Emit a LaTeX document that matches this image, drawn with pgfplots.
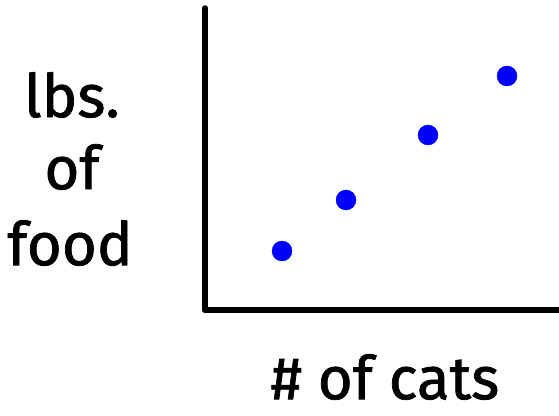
\documentclass[border=0pt]{standalone}
\usepackage{pgfplots}
\pgfplotsset{compat=1.18}
\usepackage{fontspec}
\setmainfont{Fira Sans}
\newfontfamily\hand{Fira Sans}[FakeBold=1.2]
\begin{document}
\begin{tikzpicture}[x=1pt,y=1pt]
\path[use as bounding box] (0,0) rectangle (559,415);
\begin{axis}[
  at={(205pt,105pt)}, anchor=south west,
  scale only axis, width=354pt, height=302pt,
  xmin=0, xmax=354, ymin=0, ymax=302,
  axis lines=left, ticks=none,
  axis line style={-, line width=5.5pt, line cap=round},
  clip=false,
]
\addplot[only marks, mark=*, mark size=10pt, color=blue, mark options={fill=blue}]
coordinates {(77,59) (141,110) (223,175) (302,234)};
\end{axis}
\node[font=\fontsize{60}{64}\selectfont\hand] at (72,320) {lbs.};
\node[font=\fontsize{60}{64}\selectfont\hand] at (72,248) {of};
\node[font=\fontsize{60}{64}\selectfont\hand] at (70,172) {food};
\node[font=\fontsize{60}{64}\selectfont\hand] at (385,38) {\# of cats};
\end{tikzpicture}
\end{document}
